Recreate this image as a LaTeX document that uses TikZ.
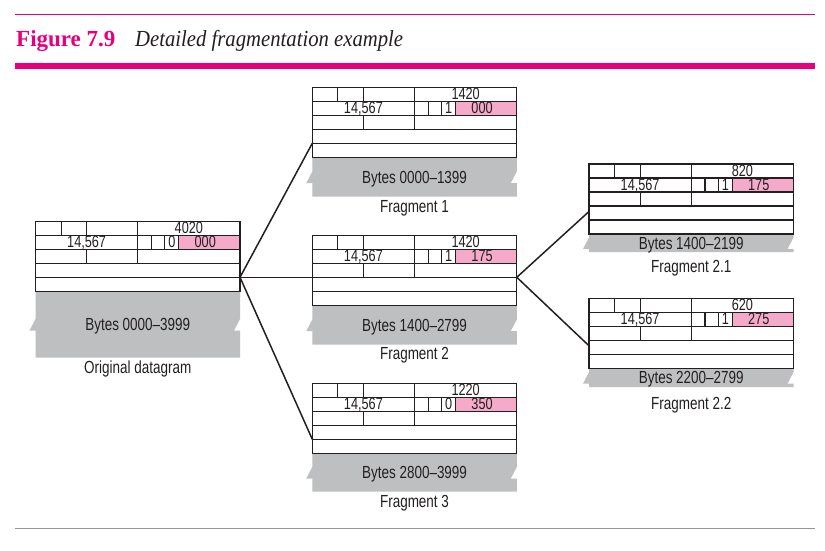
\documentclass[tikz,border=0pt]{standalone}
\usepackage{fontspec}
\setmainfont{Liberation Serif}
\newfontfamily\cond[FakeStretch=0.77]{Liberation Sans}
\newfontfamily\titlebf{Liberation Serif}
\newfontfamily\titleit[FakeStretch=0.9]{Liberation Serif}
\usetikzlibrary{calc}
\definecolor{mag}{RGB}{230,0,126}
\definecolor{pinkf}{RGB}{244,170,200}
\definecolor{grayf}{RGB}{190,191,193}
\definecolor{ink}{RGB}{35,31,32}
\definecolor{rule}{RGB}{150,150,150}
\tikzset{
  hdrline/.style={draw=ink, line width=1.1pt},
  conn/.style={draw=ink, line width=1.5pt},
  fieldtxt/.style={font=\cond\fontsize{16.5}{17}\selectfont, text=ink, inner sep=0pt, anchor=base},
  bytestxt/.style={font=\cond\fontsize{17.5}{19}\selectfont, text=ink, inner sep=0pt, anchor=base},
  lbltxt/.style={font=\cond\fontsize{17.5}{19}\selectfont, text=ink, inner sep=0pt, anchor=base},
}
% #1 name, #2 x, #3 top, #4 total length, #5 flag, #6 offset, #7 gray bottom, #8 bytes text
\newcommand{\pkt}[8]{%
  \begin{scope}[shift={(#2,#3)}]
    \pgfmathsetmacro\W{204.5}
    \pgfmathsetmacro\gb{#7-#3}
    \pgfmathsetmacro\gm{(70+\gb)/2}
    \pgfmathsetmacro\wa{\gm-5.5}
    \pgfmathsetmacro\wb{\gm+6}
    \fill[grayf] (0,70) -- (\W,70) -- (\W,\wa) -- (\W-6,\wb) -- (\W,\wb) -- (\W,\gb)
      -- (0,\gb) -- (0,\wb) -- (-6,\wb) -- (0,\wa) -- cycle;
    \fill[pinkf] (0.7*\W,14) rectangle (\W,28);
    \node[hdrline, rectangle, minimum width=\W pt, minimum height=70pt, inner sep=0pt] (#1) at (\W/2,35) {};
    \draw[hdrline] (0,14) -- (\W,14) (0,28) -- (\W,28) (0,42) -- (\W,42) (0,56) -- (\W,56);
    \draw[hdrline] (\W/8,0) -- (\W/8,14) (\W/4,0) -- (\W/4,14) (\W/2,0) -- (\W/2,14);
    \draw[hdrline] (\W/2,14) -- (\W/2,28) (0.567*\W,14) -- (0.567*\W,28)
      (0.633*\W,14) -- (0.633*\W,28) (0.7*\W,14) -- (0.7*\W,28);
    \draw[hdrline] (\W/4,28) -- (\W/4,42) (\W/2,28) -- (\W/2,42);
    \node[fieldtxt] (#1-len) at (0.75*\W,12.6) {#4};
    \node[fieldtxt] (#1-id) at (0.25*\W,26.6) {14,567};
    \node[fieldtxt] (#1-mf) at (0.6665*\W,26.6) {#5};
    \node[fieldtxt] (#1-off) at (0.83*\W,26.6) {#6};
    \node[bytestxt] (#1-b) at (\W/2,\gm+6.3) {#8};
    \coordinate (#1-r3) at (\W,42);
    \coordinate (#1-r4) at (\W,56);
    \coordinate (#1-l3) at (0,42);
    \coordinate (#1-l4) at (0,56);
    \coordinate (#1-lm) at (0,47.5);
  \end{scope}%
}
\begin{document}
\begin{tikzpicture}[x=1pt,y=-1pt]
\useasboundingbox (0,0) rectangle (825,551);
\fill[white] (0,0) rectangle (825,551);
% header rules and title
\draw[mag, line width=1pt] (15,15) -- (815,15);
\fill[mag] (15,63) rectangle (815,69);
\draw[rule, line width=0.8pt] (15,528) -- (815,528);
\node[font=\titlebf\bfseries\fontsize{23}{26}\selectfont, text=mag, inner sep=0pt, anchor=base west] (figno) at (16,47) {Figure 7.9};
\node[font=\titleit\itshape\fontsize{23}{26}\selectfont, text=ink, inner sep=0pt, anchor=base west] (figtitle) at (135,47) {Detailed fragmentation example};

% packets
\pkt{o}{35.5}{221.3}{4020}{0}{000}{357.7}{Bytes 0000–3999}
\pkt{fa}{312.3}{87.3}{1420}{1}{000}{196.7}{Bytes 0000–1399}
\pkt{fb}{312.3}{235.3}{1420}{1}{175}{344.7}{Bytes 1400–2799}
\pkt{fc}{312.3}{383.3}{1220}{0}{350}{491.7}{Bytes 2800–3999}
\pkt{fba}{589}{164}{820}{1}{175}{252}{Bytes 1400–2199}
\pkt{fbb}{589}{298.3}{620}{1}{275}{387}{Bytes 2200–2799}

% labels
\node[lbltxt] (o-lbl) at (137.75,373.5) {Original datagram};
\node[lbltxt] (fa-lbl) at (414.5,212) {Fragment 1};
\node[lbltxt] (fb-lbl) at (414.5,359.7) {Fragment 2};
\node[lbltxt] (fc-lbl) at (414.5,507) {Fragment 3};
\node[lbltxt] (fba-lbl) at (691.25,272.5) {Fragment 2.1};
\node[lbltxt] (fbb-lbl) at (691.25,409.5) {Fragment 2.2};

% connectors
\draw[conn] (o-r4) -- (fa-l4);
\draw[conn] (o-r4) -- (fb-l3);
\draw[conn] (o-r4) -- (fc-l4);
\draw[conn] (fb-r3) -- (fba-lm);
\draw[conn] (fb-r3) -- (fbb-lm);
\end{tikzpicture}
\end{document}
